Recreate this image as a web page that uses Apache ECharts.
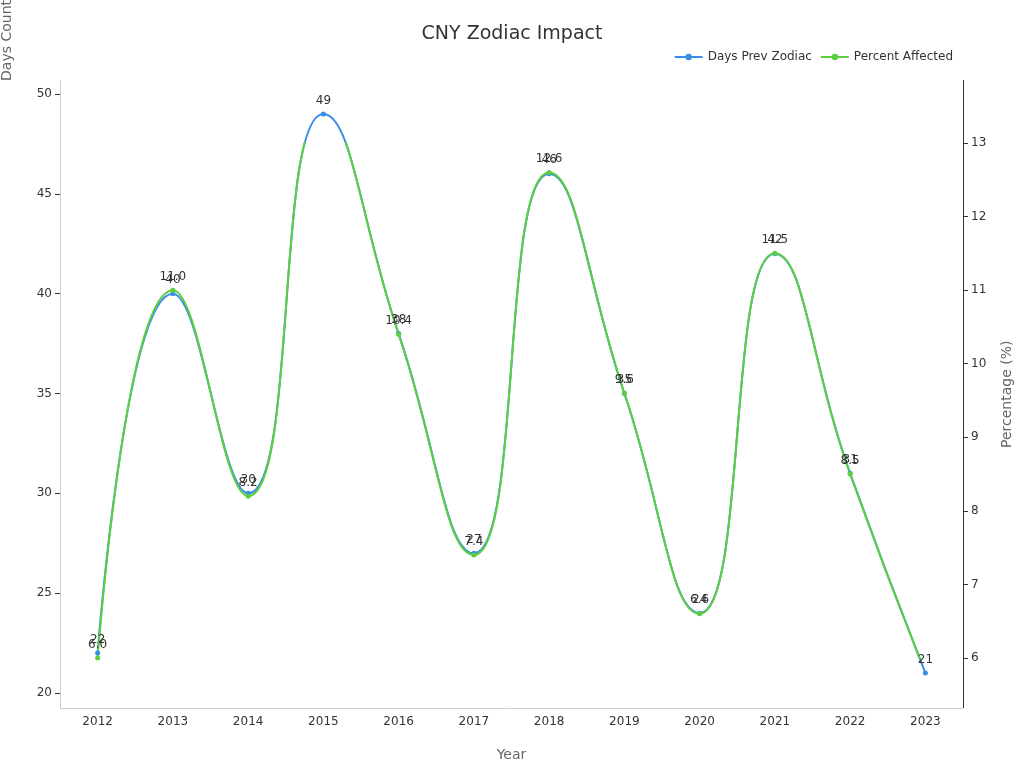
<!DOCTYPE html>
<html><head><meta charset="utf-8">
<script src="https://cdn.jsdelivr.net/npm/echarts@6/dist/echarts.min.js"></script>
<style>html,body{margin:0;padding:0}#c{width:1024px;height:768px}</style>
</head><body><div id="c"></div>
<script>
const years = ['2012','2013','2014','2015','2016','2017','2018','2019','2020','2021','2022','2023'];
const daysPrev = [22,40,30,49,38,27,46,35,24,42,31,21];
const percentAffected = [6.0,11.0,8.2,13.4,10.4,7.4,12.6,9.6,6.6,11.5,8.5,5.8];
const chart = echarts.init(document.getElementById('c'));
const F = 'DejaVu Sans';
const axisName = {color:'#666',fontSize:14,fontFamily:F};
const lab = {color:'#333',fontFamily:F,fontSize:12};
chart.setOption({
  animation:false,
  textStyle:{fontFamily:F},
  title:{text:'CNY Zodiac Impact',left:'center',top:20,textStyle:{fontSize:19,fontWeight:'normal',color:'#333',fontFamily:F}},
  legend:{right:66,top:46,itemWidth:28,itemHeight:8,textStyle:{fontSize:12,color:'#333',fontFamily:F}},
  grid:[
    {left:60,right:61,top:94,bottom:75},
    {left:60,right:61,top:143,bottom:110}
  ],
  graphic:[
    {type:'line',shape:{x1:60.5,y1:80,x2:60.5,y2:708},style:{stroke:'#ccc',lineWidth:1}},
    {type:'line',shape:{x1:963.5,y1:80,x2:963.5,y2:708},style:{stroke:'#333',lineWidth:1}},
    {type:'line',shape:{x1:60,y1:708.5,x2:963,y2:708.5},style:{stroke:'#ccc',lineWidth:1}},
    {type:'text',left:0,top:0,style:{text:'Days Count',fill:'#666',font:'14px DejaVu Sans'},x:8,y:435,rotation:Math.PI/2},
    {type:'text',style:{text:'Percentage (%)',fill:'#666',font:'14px DejaVu Sans'},x:1000,y:448,rotation:Math.PI/2}
  ],
  xAxis:[
    {type:'category',gridIndex:0,data:years,position:'bottom',offset:15,name:'Year',nameLocation:'middle',nameGap:40,nameTextStyle:axisName,
      axisTick:{alignWithLabel:true,lineStyle:{color:'#ccc'}},axisLine:{show:false},axisLabel:lab},
    {type:'category',gridIndex:1,data:years,show:false}
  ],
  yAxis:[
    {type:'value',gridIndex:0,min:20,max:50,interval:5,
      axisLine:{show:false},axisTick:{show:true,lineStyle:{color:'#333'}},splitLine:{show:false},axisLabel:lab},
    {type:'value',gridIndex:1,position:'right',min:6,max:13,interval:1,
      axisLine:{show:false},axisTick:{show:true,lineStyle:{color:'#333'}},splitLine:{show:false},axisLabel:lab}
  ],
  series:[
    {name:'Days Prev Zodiac',type:'line',smooth:true,data:daysPrev,xAxisIndex:0,yAxisIndex:0,symbol:'circle',symbolSize:5,
      itemStyle:{color:'#3a8ee6'},lineStyle:{width:2},label:Object.assign({show:true,position:'top'},lab)},
    {name:'Percent Affected',type:'line',smooth:true,data:percentAffected,xAxisIndex:1,yAxisIndex:1,symbol:'circle',symbolSize:5,
      itemStyle:{color:'#5ccf3e'},lineStyle:{width:2},label:Object.assign({show:true,position:'top',formatter:p=>p.value.toFixed(1)},lab)}
  ]
});
</script></body></html>
